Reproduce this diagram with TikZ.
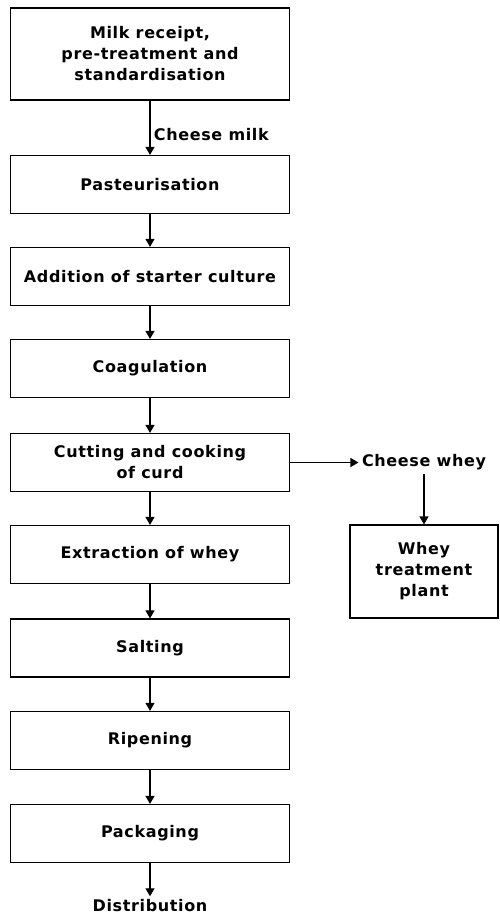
\documentclass[tikz,border=0pt]{standalone}
\usepackage{fontspec}
\setmainfont{DejaVu Sans}[LetterSpace=4]
\usetikzlibrary{arrows.meta,positioning}

\begin{document}
\begin{tikzpicture}[x=1pt,y=-1pt,
    every node/.style={font=\bfseries\fontsize{16}{21}\selectfont},
    stage/.style={draw,line width=1.2pt,minimum width=279pt,
                  minimum height=58pt,align=center,inner sep=2pt},
    flow/.style={-{Triangle[width=9pt,length=8pt]},line width=1.2pt}]
  \useasboundingbox (0,0) rectangle (499,918);

  %% Main process line
  \node[stage,minimum height=92pt] (milk) at (150,54)
        {Milk receipt,\\pre-treatment and\\standardisation};
  \node[stage] (past)  at (150,184.5) {Pasteurisation};
  \node[stage] (start) at (150,276.5) {Addition of starter culture};
  \node[stage] (coag)  at (150,368.5) {Coagulation};
  \node[stage] (cut)   at (150,462.5) {Cutting and cooking\\of curd};
  \node[stage] (extr)  at (150,554.5) {Extraction of whey};
  \node[stage] (salt)  at (150,648)   {Salting};
  \node[stage] (ripe)  at (150,740.5) {Ripening};
  \node[stage] (pack)  at (150,833.5) {Packaging};
  \node (dist) at (150,906) {Distribution};

  \draw[flow] (milk) -- node[right,pos=0.62] {Cheese milk} (past);
  \foreach \a/\b in {past/start, start/coag, coag/cut, cut/extr,
                     extr/salt, salt/ripe, ripe/pack}{
    \draw[flow] (\a) -- (\b);
  }
  \draw[flow] (pack.south) -- (dist.north);

  %% Whey branch
  \node (whey) at (424,462.5) {Cheese whey};
  \node[stage,minimum width=148pt,minimum height=93pt] (plant)
        at (424,571.5) {Whey\\treatment\\plant};
  \draw[flow] (cut.east) -- (whey.west);
  \draw[flow] (whey.south) -- (plant.north);
\end{tikzpicture}
\end{document}
